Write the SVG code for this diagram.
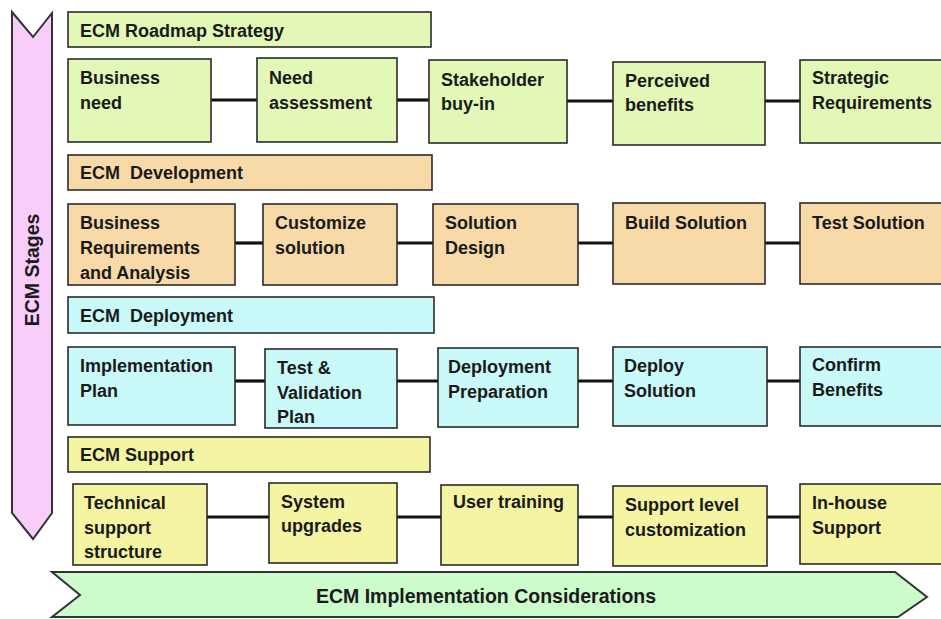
<svg xmlns="http://www.w3.org/2000/svg" width="941" height="619" viewBox="0 0 941 619">
  <style>
    text { font-family: "Liberation Sans", Arial, sans-serif; font-weight: bold; font-size: 18px; fill: #1a1a1a; }
    .big { font-size: 19.5px; }
    .box { stroke: #2b2b2b; stroke-width: 1.6; }
    .roadmap { fill: #e3f8b6; }
    .dev { fill: #f8d9a8; }
    .deploy { fill: #c9f9f9; }
    .support { fill: #f4f4a2; }
    .conn line { stroke: #111; stroke-width: 3.2; }
    .banner { stroke: #333; stroke-width: 2; stroke-linejoin: miter; }
  </style>

  <!-- vertical stages banner -->
  <g id="stages">
    <path class="banner" d="M12,12 L33,37 L52,13 L52,513 L33,539 L12,513 Z" fill="#f9cdf9"/>
    <text class="big" transform="translate(39,270) rotate(-90)" text-anchor="middle">ECM Stages</text>
  </g>

  <!-- horizontal considerations banner -->
  <g id="considerations">
    <path class="banner" d="M52,572 L895,572 L927,597 L898,617 L52,617 L80,595 Z" fill="#ccfbcc" stroke="#2e4a5a"/>
    <text class="big" x="486" y="603" text-anchor="middle">ECM Implementation Considerations</text>
  </g>

  <!-- stage headers -->
  <g id="h-roadmap"><rect class="box roadmap" x="68" y="12" width="363" height="35"/><text x="80" y="37">ECM Roadmap Strategy</text></g>
  <g id="h-dev"><rect class="box dev" x="68" y="155" width="364" height="35"/><text x="80" y="179" xml:space="preserve">ECM  Development</text></g>
  <g id="h-deploy"><rect class="box deploy" x="68" y="297" width="366" height="36"/><text x="80" y="322" xml:space="preserve">ECM  Deployment</text></g>
  <g id="h-support"><rect class="box support" x="68" y="437" width="362" height="35"/><text x="80" y="461">ECM Support</text></g>

  <!-- connectors -->
  <g id="connectors" class="conn">
    <line x1="211" y1="100" x2="257" y2="100"/>
    <line x1="397" y1="100" x2="429" y2="100"/>
    <line x1="567" y1="101" x2="613" y2="101"/>
    <line x1="765" y1="101" x2="800" y2="101"/>

    <line x1="235" y1="243" x2="263" y2="243"/>
    <line x1="397" y1="243" x2="433" y2="243"/>
    <line x1="578" y1="243" x2="613" y2="243"/>
    <line x1="765" y1="243" x2="800" y2="243"/>

    <line x1="235" y1="381" x2="265" y2="381"/>
    <line x1="397" y1="381" x2="438" y2="381"/>
    <line x1="578" y1="381" x2="613" y2="381"/>
    <line x1="767" y1="381" x2="800" y2="381"/>

    <line x1="207" y1="517" x2="269" y2="517"/>
    <line x1="397" y1="517" x2="441" y2="517"/>
    <line x1="578" y1="517" x2="613" y2="517"/>
    <line x1="767" y1="517" x2="800" y2="517"/>
  </g>

  <!-- roadmap row -->
  <g id="business-need"><rect class="box roadmap" x="68" y="59" width="143" height="83"/><text x="80" y="84">Business</text><text x="80" y="109">need</text></g>
  <g id="need-assessment"><rect class="box roadmap" x="257" y="58" width="140" height="84"/><text x="269" y="84">Need</text><text x="269" y="109">assessment</text></g>
  <g id="stakeholder"><rect class="box roadmap" x="429" y="60" width="138" height="83"/><text x="441" y="86">Stakeholder</text><text x="441" y="110">buy-in</text></g>
  <g id="perceived"><rect class="box roadmap" x="613" y="62" width="152" height="83"/><text x="625" y="87">Perceived</text><text x="625" y="111">benefits</text></g>
  <g id="strategic"><rect class="box roadmap" x="800" y="60" width="150" height="83"/><text x="812" y="84">Strategic</text><text x="812" y="109">Requirements</text></g>

  <!-- development row -->
  <g id="business-req"><rect class="box dev" x="68" y="204" width="167" height="81"/><text x="80" y="229">Business</text><text x="80" y="254">Requirements</text><text x="80" y="279">and Analysis</text></g>
  <g id="customize"><rect class="box dev" x="263" y="204" width="134" height="81"/><text x="275" y="229">Customize</text><text x="275" y="254">solution</text></g>
  <g id="solution-design"><rect class="box dev" x="433" y="204" width="145" height="81"/><text x="445" y="229">Solution</text><text x="445" y="254">Design</text></g>
  <g id="build-solution"><rect class="box dev" x="613" y="203" width="152" height="81"/><text x="625" y="229">Build Solution</text></g>
  <g id="test-solution"><rect class="box dev" x="800" y="203" width="150" height="81"/><text x="812" y="229">Test Solution</text></g>

  <!-- deployment row -->
  <g id="impl-plan"><rect class="box deploy" x="68" y="347" width="167" height="78"/><text x="80" y="372">Implementation</text><text x="80" y="397">Plan</text></g>
  <g id="test-validation"><rect class="box deploy" x="265" y="349" width="132" height="79"/><text x="277" y="374">Test &amp;</text><text x="277" y="399">Validation</text><text x="277" y="423">Plan</text></g>
  <g id="deploy-prep"><rect class="box deploy" x="438" y="348" width="140" height="79"/><text x="448" y="373">Deployment</text><text x="448" y="398">Preparation</text></g>
  <g id="deploy-solution"><rect class="box deploy" x="613" y="347" width="154" height="79"/><text x="624" y="372">Deploy</text><text x="624" y="397">Solution</text></g>
  <g id="confirm-benefits"><rect class="box deploy" x="800" y="347" width="150" height="79"/><text x="812" y="371">Confirm</text><text x="812" y="396">Benefits</text></g>

  <!-- support row -->
  <g id="tech-support"><rect class="box support" x="73" y="484" width="134" height="81"/><text x="84" y="509">Technical</text><text x="84" y="534">support</text><text x="84" y="558">structure</text></g>
  <g id="system-upgrades"><rect class="box support" x="269" y="483" width="128" height="80"/><text x="281" y="508">System</text><text x="281" y="532">upgrades</text></g>
  <g id="user-training"><rect class="box support" x="441" y="485" width="137" height="80"/><text x="453" y="508">User training</text></g>
  <g id="support-level"><rect class="box support" x="613" y="486" width="154" height="80"/><text x="625" y="511">Support level</text><text x="625" y="536">customization</text></g>
  <g id="in-house"><rect class="box support" x="800" y="484" width="150" height="80"/><text x="812" y="509">In-house</text><text x="812" y="534">Support</text></g>
</svg>
